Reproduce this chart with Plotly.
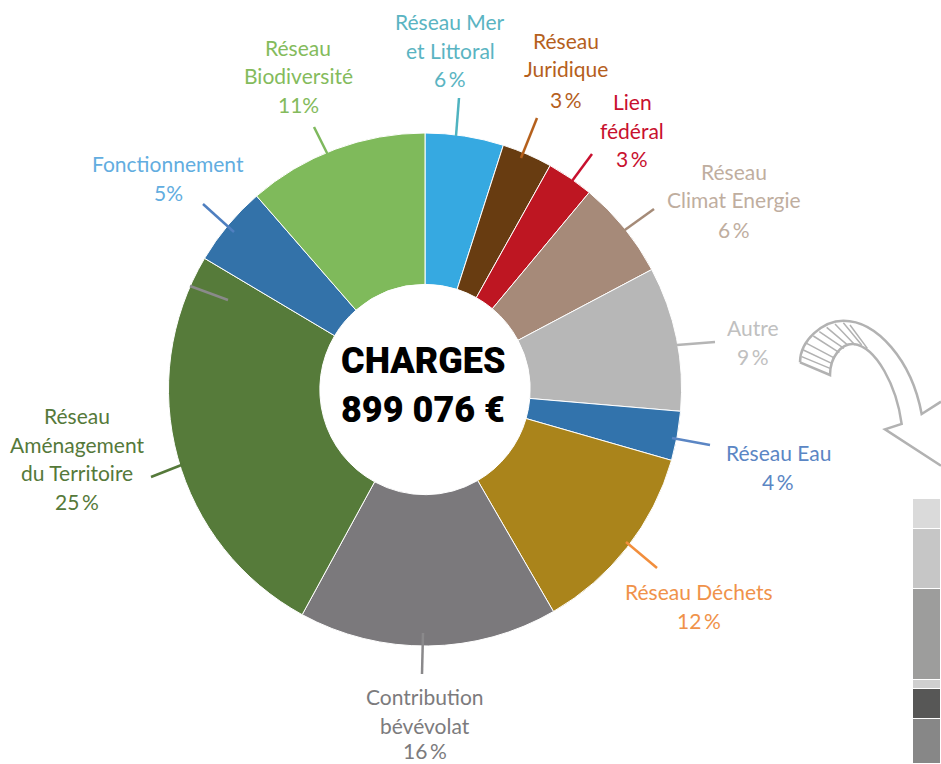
import plotly.graph_objects as go

W, H = 941, 764
FONT = "Lato"
HEAVY = "Roboto"

categories = ["Réseau Mer et Littoral", "Réseau Juridique", "Lien fédéral", "Réseau Climat Energie",
              "Autre", "Réseau Eau", "Réseau Déchets", "Contribution bévévolat",
              "Réseau Aménagement du Territoire", "Fonctionnement", "Réseau Biodiversité"]
shares = [4.94, 3.17, 2.95, 6.2, 9.1, 3.1, 12.2, 16.3, 25.6, 5.06, 11.4]
colors = ["#36a9e1", "#683c11", "#be1622", "#a68a79", "#b7b7b7", "#3273ac", "#aa841b",
          "#7b797c", "#567b3a", "#3372a9", "#7fba5b"]

side_values = [30, 60, 91, 9, 30, 45]
side_colors = ["#dadada", "#c6c6c6", "#9d9d9c", "#cfcfcf", "#575756", "#878787"]

labels = [
    (["Réseau Mer", "et Littoral", "6\u2009%"], 450, [21, 50, 79], "#5ab4c2"),
    (["Réseau", "Juridique", "3\u2009%"], 566, [41, 69, 99], "#b5601c"),
    (["Lien", "fédéral", "3\u2009%"], 632, [102, 131, 159], "#c8102e"),
    (["Réseau", "Climat Energie", "6\u2009%"], 734, [172, 200, 229], "#bfae9f"),
    (["Autre", "9\u2009%"], 753, [327, 356], "#c0c0c0"),
    (["Réseau Eau", "4\u2009%"], 778, [452, 481], "#5b86c4"),
    (["Réseau Déchets", "12\u2009%"], 699, [591, 620], "#f0924a"),
    (["Contribution", "bévévolat", "16\u2009%"], 425, [696, 725, 750], "#7c7b7d"),
    (["Réseau", "Aménagement", "du Territoire", "25\u2009%"], 77, [415, 444, 472, 501], "#55793a"),
    (["Fonctionnement", "5%"], 168, [163, 192], "#62ade0"),
    (["Réseau", "Biodiversité", "11%"], 298, [47, 75, 104], "#84bb5c"),
]

leaders = [
    (459, 98, 456, 136, "#4fb3c0"), (537, 118, 521, 158, "#b5601c"), (592, 154, 572, 181, "#c8102e"),
    (654, 209, 622, 232, "#a58b78"), (715, 342, 677, 345, "#b5b5b5"), (710, 445, 672, 438, "#5b86c4"),
    (657, 568, 626, 542, "#f28e3c"), (423, 633, 422, 674, "#8a898b"), (151, 477, 184, 464, "#55793a"),
    (203, 204, 234, 232, "#4f7fc0"), (314, 127, 328, 155, "#7fb95e"), (190, 286, 228, 300, "#8a8a8a"),
]

px = lambda x: x / W
py = lambda y: 1 - y / H
cx, cy, r = 425, 389.5, 256.5

fig = go.Figure()
fig.add_trace(go.Pie(
    labels=categories, values=shares, hole=0.41, sort=False, direction="clockwise", rotation=0,
    textinfo="none", showlegend=False,
    marker=dict(colors=colors, line=dict(color="white", width=1)),
    domain=dict(x=[px(cx - r), px(cx + r)], y=[py(cy + r), py(cy - r)]),
))
for v, c in zip(side_values, side_colors):
    fig.add_trace(go.Bar(x=["a"], y=[v], marker=dict(color=c, line=dict(color="white", width=1.5)),
                         width=1, showlegend=False, xaxis="x", yaxis="y"))

annotations = []
for lines, x, ys, col in labels:
    for t, y in zip(lines, ys):
        annotations.append(dict(text=t, x=px(x), y=py(y), xref="paper", yref="paper", showarrow=False,
                                xanchor="center", yanchor="middle", font=dict(family=FONT, size=21, color=col)))
for t, y in [("CHARGES", 361), ("899 076 €", 410)]:
    annotations.append(dict(text=t, x=px(423), y=py(y), xref="paper", yref="paper", showarrow=False,
                            xanchor="center", yanchor="middle",
                            font=dict(family=HEAVY, size=36, color="black", weight=900)))

shapes = [dict(type="line", xref="paper", yref="paper", x0=px(a), y0=py(b), x1=px(c), y1=py(d),
               line=dict(color=col, width=2.5)) for a, b, c, d, col in leaders]


def z(x, y):
    return f"{px(780 + x / 3)},{py(300 + y / 3)}"


outer = (f"M{z(60,187)} C{z(60,120)} {z(130,62)} {z(190,62)} C{z(290,62)} {z(395,180)} {z(425,342)} L{z(483,305)}")
inner = (f"M{z(60,187)} L{z(150,225)} C{z(150,170)} {z(185,130)} {z(220,132)} C{z(290,140)} {z(350,260)} {z(365,372)} "
         f"L{z(315,388)} L{z(483,497)}")
hatch_pts = [(65, 170, 150, 205), (70, 150, 155, 190), (80, 130, 165, 175), (100, 108, 178, 158), (118, 95, 192, 145),
             (140, 82, 205, 137), (165, 72, 225, 135), (190, 68, 245, 135), (210, 75, 262, 145)]
hatch = " ".join(f"M{z(a,b)} L{z(c,d)}" for a, b, c, d in hatch_pts)
for path, w in [(outer, 2.5), (inner, 2.5), (hatch, 1.5)]:
    shapes.append(dict(type="path", xref="paper", yref="paper", path=path, line=dict(color="#b2b2b2", width=w)))

fig.update_layout(
    width=W, height=H, autosize=False, margin=dict(l=0, r=0, t=0, b=0),
    paper_bgcolor="white", plot_bgcolor="white", barmode="stack", bargap=0,
    xaxis=dict(domain=[px(913), 1], visible=False, fixedrange=True),
    yaxis=dict(domain=[0, py(499)], visible=False, range=[265, 0], fixedrange=True),
    annotations=annotations, shapes=shapes,
)
fig.write_html("out.html", config={"displayModeBar": False},
               post_script="document.body.style.margin='0';document.body.style.overflow='hidden';")
